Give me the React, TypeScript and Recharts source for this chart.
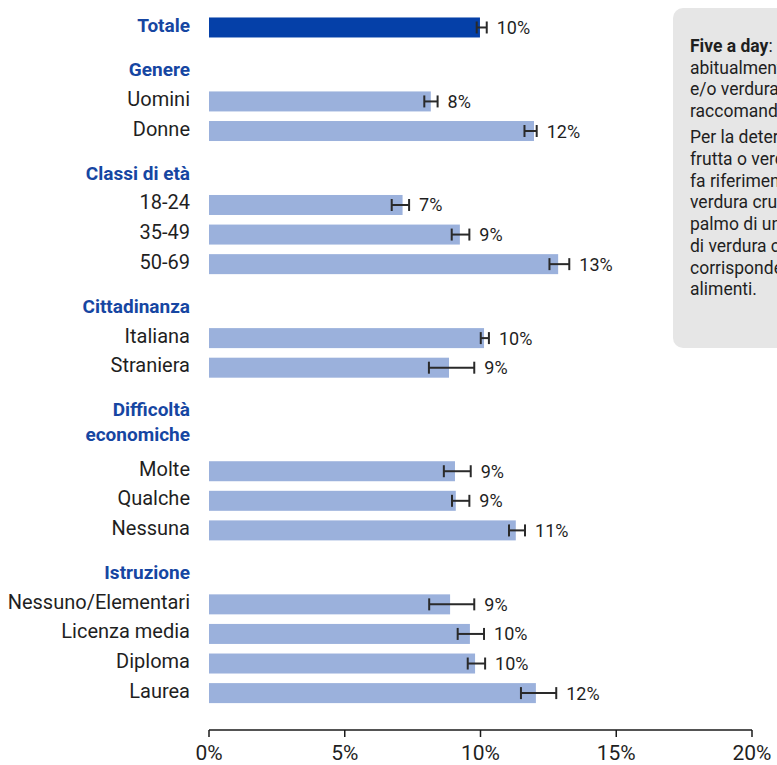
import React from 'react';
import { BarChart, Bar, XAxis, YAxis, ErrorBar, LabelList } from 'recharts';

// Five a day, % per sottogruppo (con intervallo di confidenza)
const totalLabel = 'Totale';
const totalValue = 9.98;
const totalLow = 9.86;
const totalHigh = 10.23;

const groupHeaders = ['Genere', 'Classi di età', 'Cittadinanza', 'Difficoltà\neconomiche', 'Istruzione'];

const groupCategories = [
  ['Uomini', 'Donne'],
  ['18-24', '35-49', '50-69'],
  ['Italiana', 'Straniera'],
  ['Molte', 'Qualche', 'Nessuna'],
  ['Nessuno/Elementari', 'Licenza media', 'Diploma', 'Laurea'],
];

const groupValues = [
  [8.17, 11.97],
  [7.13, 9.24, 12.86],
  [10.13, 8.84],
  [9.06, 9.09, 11.3],
  [8.88, 9.61, 9.8, 12.04],
];

const groupLows = [
  [7.93, 11.62],
  [6.73, 8.94, 12.54],
  [10.01, 8.1],
  [8.65, 8.95, 11.05],
  [8.11, 9.16, 9.53, 11.49],
];

const groupHighs = [
  [8.42, 12.07],
  [7.37, 9.59, 13.27],
  [10.31, 9.77],
  [9.64, 9.59, 11.64],
  [9.77, 10.13, 10.17, 12.79],
];

const xTicks = [0, 5, 10, 15, 20];

const DARK = '#0540a8';
const LIGHT = '#9bb1dc';
const HEAD = '#1646a2';
const INK = '#1f1f1f';

type Row = {
  key: string;
  kind: 'total' | 'item' | 'header' | 'blank';
  label: string;
  value?: number;
  lo?: number;
  hi?: number;
  err?: [number, number];
};

// half-row grid: each item takes two slots, headers take some spacing
const rows: Row[] = [];
const add = (r: Omit<Row, 'key'>) => rows.push({ ...r, key: 'r' + rows.length });
const blank = (n: number) => {
  for (let i = 0; i < n; i++) add({ kind: 'blank', label: '' });
};

add({
  kind: 'total',
  label: totalLabel,
  value: totalValue,
  lo: totalLow,
  hi: totalHigh,
  err: [totalValue - totalLow, totalHigh - totalValue],
});
blank(2);
groupHeaders.forEach((h, g) => {
  add({ kind: 'header', label: h });
  blank(h.includes('\n') ? 3 : 1);
  groupCategories[g].forEach((c, i) => {
    const v = groupValues[g][i];
    const lo = groupLows[g][i];
    const hi = groupHighs[g][i];
    add({ kind: 'item', label: c, value: v, lo, hi, err: [v - lo, hi - v] });
    if (i < groupCategories[g].length - 1) blank(1);
  });
  blank(2);
});

const rowByKey: Record<string, Row> = {};
rows.forEach((r) => (rowByKey[r.key] = r));

const YTick = (props: any) => {
  const { x, y, payload } = props;
  const row = rowByKey[payload?.value];
  if (!row || !row.label) return null;
  const bold = row.kind !== 'item';
  const fs = bold ? 19 : 20;
  const lines = row.label.split('\n');
  return (
    <text
      x={x}
      y={y - 2.5}
      textAnchor="end"
      fontSize={fs}
      fontWeight={bold ? 700 : 400}
      fill={bold ? HEAD : INK}
    >
      {lines.map((l, i) => (
        <tspan key={i} x={x} dy={i === 0 ? fs * 0.355 : 25}>
          {l}
        </tspan>
      ))}
    </text>
  );
};

const BarShape = (props: any) => {
  const { x, y, width, height, payload } = props;
  if (!payload || payload.value == null) return <g />;
  const cy = y + height / 2;
  return (
    <rect
      x={x}
      y={cy - 10}
      width={width}
      height={20}
      fill={payload.kind === 'total' ? DARK : LIGHT}
    />
  );
};

const ValueLabel = (props: any) => {
  const vb = props.viewBox || props;
  const row = rowByKey[props.value];
  if (!row || row.value == null || row.hi == null) return null;
  const { x, y, width, height } = vb;
  // bars start at 0, so the width gives the scale
  const hiX = x + (width * row.hi) / row.value;
  return (
    <text x={hiX + 10} y={y + height / 2} dy={6.5} fontSize={18} fill={INK}>
      {Math.round(row.value)}%
    </text>
  );
};

const boxLines1 = [
  'Five a day',
  'abitualmente 5 o più porzioni al giorno di frutta',
  'e/o verdura, come indicato dalle linee guida e',
  'raccomandato dall’OMS.',
];

const boxLines2 = [
  'Per la determinazione del numero di porzioni di',
  'frutta o verdura consumate quotidianamente si',
  'fa riferimento alle seguenti quantità: una porzione di',
  'verdura cruda corrisponde a quanto può stare nel',
  'palmo di una mano, una porzione di frutta o',
  'di verdura cotta a mezzo piatto; una porzione',
  'corrisponde a circa 80 grammi di questi',
  'alimenti.',
];

export default function App() {
  return (
    <div
      style={{
        position: 'fixed',
        left: 0,
        top: 0,
        width: 777,
        height: 765,
        overflow: 'hidden',
        background: '#fff',
        fontFamily: 'Roboto, "Noto Sans", sans-serif',
      }}
    >
      <BarChart
        width={777}
        height={765}
        data={rows}
        layout="vertical"
        margin={{ top: 20, right: 25, bottom: 0, left: 0 }}
      >
        <XAxis
          type="number"
          domain={[0, 20]}
          ticks={xTicks}
          tickFormatter={(v) => `${v}%`}
          axisLine={{ stroke: '#1a1a1a', strokeWidth: 1.5 }}
          tickLine={{ stroke: '#1a1a1a', strokeWidth: 1.5 }}
          tickSize={7}
          tickMargin={8}
          height={35}
          tick={{ fill: INK, fontSize: 21 }}
        />
        <YAxis
          type="category"
          dataKey="key"
          width={209}
          interval={0}
          axisLine={false}
          tickLine={false}
          tickSize={0}
          tickMargin={19}
          tick={<YTick />}
        />
        <Bar dataKey="value" shape={<BarShape />} isAnimationActive={false}>
          <ErrorBar
            dataKey="err"
            direction="x"
            width={6}
            stroke="#2a2a2a"
            strokeWidth={2}
            isAnimationActive={false}
          />
          <LabelList dataKey="key" content={<ValueLabel />} />
        </Bar>
      </BarChart>
      <div
        style={{
          position: 'absolute',
          left: 673,
          top: 8,
          width: 260,
          height: 340,
          background: '#e6e6e6',
          borderRadius: 10,
          boxSizing: 'border-box',
          padding: '28px 0 0 17px',
          fontSize: 17.5,
          lineHeight: '21.7px',
          color: INK,
          whiteSpace: 'nowrap',
        }}
      >
        {boxLines1.map((l, i) => (
          <div key={i}>
            {i === 0 ? (
              <>
                <b>{l}</b>: persone che consumano
              </>
            ) : (
              l
            )}
          </div>
        ))}
        <div style={{ height: 4.5 }} />
        {boxLines2.map((l, i) => (
          <div key={i}>{l}</div>
        ))}
      </div>
    </div>
  );
}
